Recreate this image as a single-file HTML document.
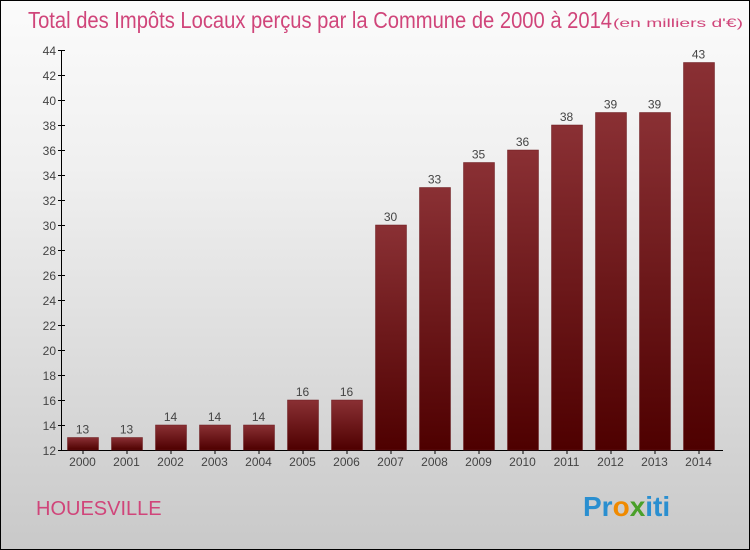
<!DOCTYPE html>
<html><head><meta charset="utf-8"><style>
body{margin:0}
#c{width:748px;height:548px;border:1px solid #000;background:linear-gradient(#fbfbfb,#f0f0f0 30%,#c9c9c9);position:relative;overflow:hidden;font-family:"Liberation Sans",sans-serif}
</style></head><body>
<div id="c">
<svg width="748" height="548">
<defs><linearGradient id="g" x1="0" y1="0" x2="0" y2="1"><stop offset="0" stop-color="#8a3034"/><stop offset="1" stop-color="#4e0000"/></linearGradient></defs>
<text x="27" y="27" font-size="23" fill="#d0457a" textLength="584" lengthAdjust="spacingAndGlyphs">Total des Impôts Locaux perçus par la Commune de 2000 à 2014</text>
<text x="612" y="26" font-size="12" fill="#d0457a" textLength="130" lengthAdjust="spacingAndGlyphs">(en milliers d'€)</text>
<g id="ax"></g><g id="bars"></g>
<text x="35" y="514" font-size="20" fill="#d0457a">HOUESVILLE</text>
<text x="582" y="515" font-size="28" font-weight="bold"><tspan fill="#2a8fd0">Pr</tspan><tspan fill="#f08a00">o</tspan><tspan fill="#4aa02a">x</tspan><tspan fill="#2a8fd0">iti</tspan></text>
</svg></div>
<script>
const years=["2000","2001","2002","2003","2004","2005","2006","2007","2008","2009","2010","2011","2012","2013","2014"];
const values=[13,13,14,14,14,16,16,30,33,35,36,38,39,39,43];
const ticks=[12,14,16,18,20,22,24,26,28,30,32,34,36,38,40,42,44];
const NS="http://www.w3.org/2000/svg";
const y=v=>449-(v-12)*12.5, x=i=>81.5+i*44;
function mk(t,a,p){const e=document.createElementNS(NS,t);for(const k in a)e.setAttribute(k,a[k]);p.appendChild(e);return e;}
const ax=document.getElementById('ax'),bg=document.getElementById('bars');
const yl=mk('line',{x1:60.5,x2:60.5,y1:y(44),y2:y(12),stroke:'#000'},ax);

const xl=mk('line',{x1:60,x2:722,y1:y(12)+0.5,y2:y(12)+0.5,stroke:'#000'},ax);

ticks.forEach(t=>{mk('line',{x1:57,x2:64,y1:y(t)+0.5,y2:y(t)+0.5,stroke:'#000'},ax);
const l=mk('text',{x:55,y:y(t)+5,'text-anchor':'end','font-size':12,fill:'#444'},ax);l.textContent=t;
});
years.forEach((yr,i)=>{const v=values[i];
const r=mk('rect',{x:x(i)-15,y:y(v),width:31,height:y(12)-y(v),fill:'url(#g)',stroke:'#6a1a1e','stroke-width':0.5},bg);

const vl=mk('text',{x:x(i),y:y(v)-4,'text-anchor':'middle','font-size':12,fill:'#444'},bg);vl.textContent=v;

mk('line',{x1:x(i)+0.5,x2:x(i)+0.5,y1:y(12),y2:y(12)+4,stroke:'#000'},ax);
const xt=mk('text',{x:x(i),y:y(12)+16,'text-anchor':'middle','font-size':12,fill:'#444'},ax);xt.textContent=yr;
});
</script>
</body></html>
